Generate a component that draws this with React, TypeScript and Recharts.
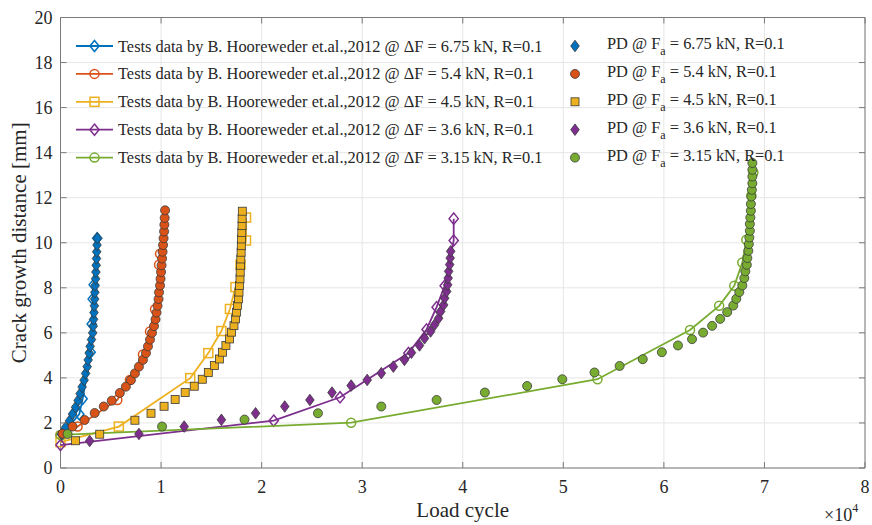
import React from 'react';
import { ScatterChart, Scatter, XAxis, YAxis, CartesianGrid, ReferenceArea } from 'recharts';

type Pt = [number, number];

// Load levels, colours and marker kinds of the five series
const loadLevels = ['6.75', '5.4', '4.5', '3.6', '3.15'];
const seriesColors = ['#0072BD', '#D95319', '#EDB120', '#7E2F8E', '#77AC30'];
const markerKinds = ['diamond', 'circle', 'square', 'diamond', 'circle'];

// Test data (load cycles, crack growth distance in mm)
const test675: Pt[] = [[200, 1.5], [1870, 2.39], [2200, 3.07], [3000, 5.14], [3100, 6.39], [3200, 7.5], [3300, 8.13], [3650, 10.2]];
const test540: Pt[] = [[0, 1.47], [1700, 1.84], [5650, 3.02], [6900, 3.91], [8200, 5.04], [8900, 6.06], [9400, 7.05], [9800, 9.02], [9900, 9.51]];
const test450: Pt[] = [[0, 1.15], [5800, 1.84], [12900, 3.99], [14700, 5.1], [16000, 6.08], [16850, 7.06], [17400, 8.03], [17900, 9.03], [18450, 10.1], [18450, 11.12]];
const test360: Pt[] = [[0, 1.02], [21200, 2.1], [27800, 3.14], [34600, 5.1], [36400, 6.15], [37400, 7.14], [38200, 8.09], [39100, 10.1], [39100, 11.07]];
const test315: Pt[] = [[0, 1.47], [28900, 2.01], [53400, 3.94], [62600, 6.13], [65500, 7.2], [67000, 8.09], [67800, 9.12], [68200, 10.13], [68700, 12.1], [68900, 13.12]];

// PD predictions (load cycles, crack growth distance in mm)
const pd675: Pt[] = [[100, 1.5], [500, 1.8], [900, 2.1], [1200, 2.4], [1500, 2.7], [1750, 3.0], [1950, 3.3], [2150, 3.6], [2350, 3.9], [2500, 4.2], [2650, 4.5], [2750, 4.8], [2850, 5.1], [2950, 5.4], [3080, 5.7], [3200, 6.0], [3250, 6.3], [3290, 6.6], [3330, 6.9], [3370, 7.2], [3400, 7.5], [3420, 7.8], [3450, 8.1], [3490, 8.4], [3520, 8.7], [3550, 9.0], [3580, 9.3], [3600, 9.6], [3630, 9.9], [3660, 10.2]];
const pd540: Pt[] = [[200, 1.52], [1200, 1.84], [2400, 2.13], [3400, 2.44], [4300, 2.73], [5100, 2.99], [5900, 3.33], [6500, 3.61], [7000, 3.9], [7400, 4.2], [7800, 4.5], [8200, 4.8], [8500, 5.1], [8700, 5.4], [8900, 5.7], [9100, 6.0], [9300, 6.3], [9450, 6.6], [9550, 6.9], [9650, 7.2], [9750, 7.5], [9800, 7.8], [9900, 8.1], [9950, 8.4], [10000, 8.7], [10050, 9.0], [10100, 9.3], [10150, 9.6], [10200, 9.9], [10250, 10.2], [10300, 10.5], [10330, 10.8], [10360, 11.1], [10400, 11.44]];
const pd450: Pt[] = [[1500, 1.21], [3900, 1.5], [7400, 2.12], [9000, 2.43], [10300, 2.74], [11400, 3.04], [12400, 3.35], [13300, 3.63], [14100, 3.94], [14700, 4.24], [15300, 4.55], [15800, 4.84], [16100, 5.14], [16450, 5.44], [16800, 5.73], [17000, 6.03], [17250, 6.32], [17400, 6.62], [17500, 6.92], [17600, 7.22], [17700, 7.51], [17750, 7.81], [17800, 8.1], [17850, 8.4], [17870, 8.7], [17900, 9.0], [17930, 9.28], [17960, 9.58], [17980, 9.87], [18000, 10.17], [18030, 10.46], [18050, 10.76], [18060, 11.08], [18080, 11.4]];
const pd360: Pt[] = [[2900, 1.2], [7800, 1.51], [12300, 1.84], [16000, 2.14], [19400, 2.43], [22300, 2.73], [24800, 3.02], [27000, 3.35], [28900, 3.66], [30500, 3.91], [31900, 4.21], [33100, 4.5], [34200, 4.8], [34900, 5.12], [35700, 5.44], [36200, 5.76], [36800, 6.06], [37200, 6.36], [37600, 6.65], [37800, 6.95], [38100, 7.24], [38200, 7.54], [38400, 7.84], [38500, 8.13], [38550, 8.43], [38600, 8.73], [38700, 9.03], [38750, 9.32], [38800, 9.62]];
const pd315: Pt[] = [[700, 1.51], [10100, 1.84], [18300, 2.15], [25600, 2.43], [31900, 2.73], [37400, 3.02], [42200, 3.35], [46400, 3.64], [49900, 3.94], [53100, 4.24], [55600, 4.53], [57900, 4.83], [59800, 5.14], [61400, 5.44], [62800, 5.72], [63900, 6.01], [64800, 6.31], [65600, 6.62], [66300, 6.92], [66900, 7.21], [67200, 7.51], [67500, 7.81], [67800, 8.1], [68000, 8.43], [68100, 8.73], [68250, 9.02], [68300, 9.32], [68400, 9.64], [68450, 9.94], [68500, 10.23], [68550, 10.53], [68550, 10.83], [68600, 11.12], [68650, 11.42], [68650, 11.72], [68700, 12.05], [68750, 12.35], [68800, 12.64], [68800, 12.94], [68800, 13.24], [68800, 13.54]];

// Axis ticks
const xTicks = [0, 10000, 20000, 30000, 40000, 50000, 60000, 70000, 80000];
const yTicks = [0, 2, 4, 6, 8, 10, 12, 14, 16, 18, 20];

const testSeries = [test675, test540, test450, test360, test315];
const pdSeries = [pd675, pd540, pd450, pd360, pd315];

const W = 872;
const H = 525;
const PLOT = { left: 60.5, right: 865, top: 17.5, bottom: 468 };
const FONT = "'Liberation Serif', 'Times New Roman', serif";
const TEXT = '#262626';
const FRAME = '#7a7a7a';

const toRows = (pts: Pt[]) => pts.map(([x, y]) => ({ x, y }));

function Marker({ kind, cx, cy, color, filled }: { kind: string; cx: number; cy: number; color: string; filled: boolean }) {
  const stroke = filled ? '#3a3a3a' : color;
  const fill = filled ? color : 'none';
  const sw = filled ? 0.8 : 1.5;
  if (kind === 'circle') {
    return <circle cx={cx} cy={cy} r={4.5} fill={fill} stroke={stroke} strokeWidth={sw} />;
  }
  if (kind === 'square') {
    const h = filled ? 4 : 4.5;
    return <rect x={cx - h} y={cy - h} width={2 * h} height={2 * h} fill={fill} stroke={stroke} strokeWidth={sw} />;
  }
  const w = filled ? 4.3 : 4.6;
  const h = filled ? 5.8 : 5.6;
  return <path d={`M${cx},${cy - h}L${cx + w},${cy}L${cx},${cy + h}L${cx - w},${cy}Z`} fill={fill} stroke={stroke} strokeWidth={sw} />;
}

const XTick = (props: any) => {
  const { x, payload } = props;
  return (
    <g>
      <line x1={x} x2={x} y1={PLOT.bottom} y2={PLOT.bottom - 6} stroke={FRAME} strokeWidth={1} />
      <line x1={x} x2={x} y1={PLOT.top} y2={PLOT.top + 6} stroke={FRAME} strokeWidth={1} />
      <text x={x} y={493} textAnchor="middle" fontFamily={FONT} fontSize={18} fill={TEXT}>
        {payload.value / 10000}
      </text>
    </g>
  );
};

const YTick = (props: any) => {
  const { y, payload } = props;
  return (
    <g>
      <line x1={PLOT.left} x2={PLOT.left + 6} y1={y} y2={y} stroke={FRAME} strokeWidth={1} />
      <line x1={PLOT.right} x2={PLOT.right - 6} y1={y} y2={y} stroke={FRAME} strokeWidth={1} />
      <text x={52.5} y={y + 6} textAnchor="end" fontFamily={FONT} fontSize={18} fill={TEXT}>
        {payload.value}
      </text>
    </g>
  );
};

function LegendOverlay() {
  const rowY = (i: number) => 46 + i * 27.9;
  return (
    <svg width={W} height={H} style={{ position: 'absolute', left: 0, top: 0, pointerEvents: 'none' }}>
      {loadLevels.map((load, i) => {
        const y = rowY(i);
        const color = seriesColors[i];
        return (
          <g key={load}>
            <line x1={76} x2={113} y1={y} y2={y} stroke={color} strokeWidth={1.8} />
            <Marker kind={markerKinds[i]} cx={94.5} cy={y} color={color} filled={false} />
            <text x={118} y={y + 5.5} fontFamily={FONT} fontSize={16.4} fill={TEXT}>
              {`Tests data by B. Hooreweder et.al.,2012 @ \u0394F = ${load} kN, R=0.1`}
            </text>
            <Marker kind={markerKinds[i]} cx={575} cy={y} color={color} filled={true} />
            <text x={607} y={y + 3} fontFamily={FONT} fontSize={16.4} fill={TEXT}>
              PD @ F
              <tspan dy={6} fontSize={12}>a</tspan>
              <tspan dy={-6}>{` = ${load} kN, R=0.1`}</tspan>
            </text>
          </g>
        );
      })}
    </svg>
  );
}

export default function App() {
  return (
    <div style={{ position: 'absolute', left: 0, top: 0, width: W, height: H, background: '#fff' }}>
      <ScatterChart width={W} height={H} margin={{ top: PLOT.top, right: W - PLOT.right, bottom: 0, left: 0 }}>
        <CartesianGrid stroke="#e6e6e6" strokeWidth={1} />
        <XAxis
          type="number"
          dataKey="x"
          domain={[0, 80000]}
          ticks={xTicks}
          height={H - PLOT.bottom}
          axisLine={false}
          tickLine={false}
          tick={<XTick />}
          interval={0}
        />
        <YAxis
          type="number"
          dataKey="y"
          domain={[0, 20]}
          ticks={yTicks}
          width={PLOT.left}
          axisLine={false}
          tickLine={false}
          tick={<YTick />}
          interval={0}
        />
        <ReferenceArea x1={0} x2={80000} y1={0} y2={20} fill="none" fillOpacity={0} stroke={FRAME} strokeWidth={1} />
        {testSeries.map((pts, i) => (
          <Scatter
            key={`test-${i}`}
            data={toRows(pts)}
            line={{ stroke: seriesColors[i], strokeWidth: 1.8 }}
            isAnimationActive={false}
            shape={(p: any) => <Marker kind={markerKinds[i]} cx={p.cx} cy={p.cy} color={seriesColors[i]} filled={false} />}
          />
        ))}
        {pdSeries.map((pts, i) => (
          <Scatter
            key={`pd-${i}`}
            data={toRows(pts)}
            isAnimationActive={false}
            shape={(p: any) => <Marker kind={markerKinds[i]} cx={p.cx} cy={p.cy} color={seriesColors[i]} filled={true} />}
          />
        ))}
      </ScatterChart>
      <svg width={W} height={H} style={{ position: 'absolute', left: 0, top: 0, pointerEvents: 'none' }}>
        <text x={462.7} y={517} textAnchor="middle" fontFamily={FONT} fontSize={21} fill={TEXT}>
          Load cycle
        </text>
        <text
          x={0}
          y={0}
          transform={`translate(26, ${(PLOT.top + PLOT.bottom) / 2}) rotate(-90)`}
          textAnchor="middle"
          fontFamily={FONT}
          fontSize={21}
          fill={TEXT}
        >
          Crack growth distance [mm]
        </text>
        <text x={824} y={521} fontFamily={FONT} fontSize={18} fill={TEXT}>
          {'\u00d710'}
          <tspan dy={-9} fontSize={12}>4</tspan>
        </text>
      </svg>
      <LegendOverlay />
    </div>
  );
}
